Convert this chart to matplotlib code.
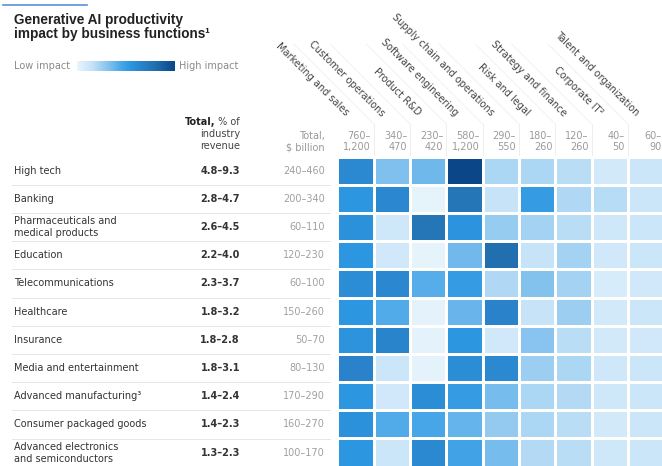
import numpy as np
import matplotlib.pyplot as plt
from matplotlib.colors import LinearSegmentedColormap

plt.rcParams['font.family'] = ['DejaVu Sans']

functions = ["Marketing and sales", "Customer operations", "Product R&D",
             "Software engineering", "Supply chain and operations", "Risk and legal",
             "Strategy and finance", "Corporate IT²", "Talent and organization"]
function_totals = ["760–\n1,200", "340–\n470", "230–\n420", "580–\n1,200", "290–\n550",
                   "180–\n260", "120–\n260", "40–\n50", "60–\n90"]

industries = ["High tech", "Banking", "Pharmaceuticals and\nmedical products", "Education",
              "Telecommunications", "Healthcare", "Insurance", "Media and entertainment",
              "Advanced manufacturing³", "Consumer packaged goods",
              "Advanced electronics\nand semiconductors"]
pct_revenue = ["4.8–9.3", "2.8–4.7", "2.6–4.5", "2.2–4.0", "2.3–3.7", "1.8–3.2",
               "1.8–2.8", "1.8–3.1", "1.4–2.4", "1.4–2.3", "1.3–2.3"]
usd_billion = ["240–460", "200–340", "60–110", "120–230", "60–100", "150–260",
               "50–70", "80–130", "170–290", "160–270", "100–170"]

# relative impact, 0 = low, 1 = high
impact = np.array([
    [0.62, 0.33, 0.37, 1.00, 0.22, 0.22, 0.18, 0.10, 0.13],
    [0.55, 0.63, 0.02, 0.76, 0.15, 0.52, 0.21, 0.19, 0.13],
    [0.58, 0.12, 0.76, 0.56, 0.27, 0.24, 0.18, 0.12, 0.13],
    [0.55, 0.11, 0.02, 0.36, 0.80, 0.15, 0.24, 0.11, 0.13],
    [0.60, 0.63, 0.42, 0.52, 0.21, 0.32, 0.24, 0.08, 0.11],
    [0.55, 0.43, 0.03, 0.38, 0.66, 0.15, 0.26, 0.10, 0.13],
    [0.57, 0.65, 0.03, 0.55, 0.11, 0.31, 0.18, 0.10, 0.11],
    [0.66, 0.13, 0.03, 0.60, 0.62, 0.26, 0.22, 0.12, 0.13],
    [0.55, 0.11, 0.60, 0.52, 0.35, 0.22, 0.20, 0.12, 0.13],
    [0.58, 0.43, 0.46, 0.39, 0.28, 0.22, 0.18, 0.10, 0.13],
    [0.55, 0.13, 0.62, 0.48, 0.35, 0.20, 0.18, 0.12, 0.13],
])

cmap = LinearSegmentedColormap.from_list("impact", [
    (0.00, "#eaf5fc"), (0.15, "#c6e3f8"), (0.30, "#8cc6ef"), (0.45, "#4aa7e8"),
    (0.55, "#2c96e0"), (0.65, "#2a84cc"), (0.78, "#2373b2"), (1.00, "#0b4689")])

W, H = 662, 466
fig = plt.figure(figsize=(W / 100, H / 100), dpi=100)
fig.patch.set_facecolor("white")

# grid geometry in pixels
gx0, gy0 = 337.5, 156.5
cw, rh = 36.3, 28.2
ncol, nrow = impact.shape[1], impact.shape[0]
fs = 7.0

# overlay axes in pixel coordinates for labels and rules
ov = fig.add_axes([0, 0, 1, 1])
ov.axis("off")

# heatmap
hm = fig.add_axes([gx0 / W, 1 - (gy0 + nrow * rh) / H, ncol * cw / W, nrow * rh / H])
hm.pcolormesh(impact, cmap=cmap, vmin=0, vmax=1, edgecolors="white", linewidth=2.0)
hm.set_xlim(0, ncol)
hm.set_ylim(nrow, 0)
hm.axis("off")

# top accent rule and title
ov.plot([3, 87], [5, 5], color="#5b8fd6", lw=1.2)
title_font = dict(fontsize=9.8, fontweight="bold", color="#222222",
                  family="Liberation Sans", va="baseline")
ov.text(14, 24, "Generative AI productivity", **title_font)
ov.text(14, 38, "impact by business functions¹", **title_font)

# legend gradient
ov.text(14, 66, "Low impact", fontsize=fs, color="#8a8a8a", va="center")
ov.imshow(np.linspace(0, 1, 256)[None, :], cmap=cmap, aspect="auto",
          extent=[77, 175, 71, 61])
ov.text(179, 66, "High impact", fontsize=fs, color="#8a8a8a", va="center")
ov.set_xlim(0, W)
ov.set_ylim(H, 0)

renderer = fig.canvas.get_renderer()

# column headers: "Total, % of industry revenue"
t = ov.text(240, 122, " % of", fontsize=fs, color="#444444", ha="right", va="center")
tw = t.get_window_extent(renderer).width
ov.text(240 - tw, 122, "Total,", fontsize=fs, color="#222222", fontweight="bold",
        ha="right", va="center")
ov.text(240, 134, "industry", fontsize=fs, color="#444444", ha="right", va="center")
ov.text(240, 146, "revenue", fontsize=fs, color="#444444", ha="right", va="center")
ov.text(325, 136, "Total,", fontsize=fs, color="#999999", ha="right", va="center")
ov.text(325, 147, "$ billion", fontsize=fs, color="#999999", ha="right", va="center")

# business function headers
for j, (name, tot) in enumerate(zip(functions, function_totals)):
    left = gx0 + j * cw
    right = left + cw
    ov.text(left + 6, 118, name, fontsize=fs, color="#444444", rotation=-45,
            rotation_mode="anchor", ha="right", va="bottom")
    top, bot = tot.split("\n")
    ov.text(right - 3, 136, top, fontsize=fs, color="#9a9a9a", ha="right", va="center")
    ov.text(right - 3, 147, bot, fontsize=fs, color="#9a9a9a", ha="right", va="center")
    if j > 0:
        ov.plot([left, left], [124, 155], color="#eeeeee", lw=0.7)
        ov.plot([left, left - 80], [124, 44], color="#f2f2f2", lw=0.7)

# industry rows
for i, (name, pct, usd) in enumerate(zip(industries, pct_revenue, usd_billion)):
    yc = gy0 + (i + 0.5) * rh
    ov.text(14, yc, name, fontsize=fs, color="#333333", va="center", linespacing=1.25)
    ov.text(240, yc, pct, fontsize=fs, color="#333333", fontweight="bold",
            ha="right", va="center")
    ov.text(325, yc, usd, fontsize=fs, color="#a0a0a0", ha="right", va="center")
    yb = gy0 + (i + 1) * rh
    ov.plot([12, 330], [yb, yb], color="#e6e6e6", lw=0.7)

fig.savefig("out.png", dpi=100, facecolor="white")
